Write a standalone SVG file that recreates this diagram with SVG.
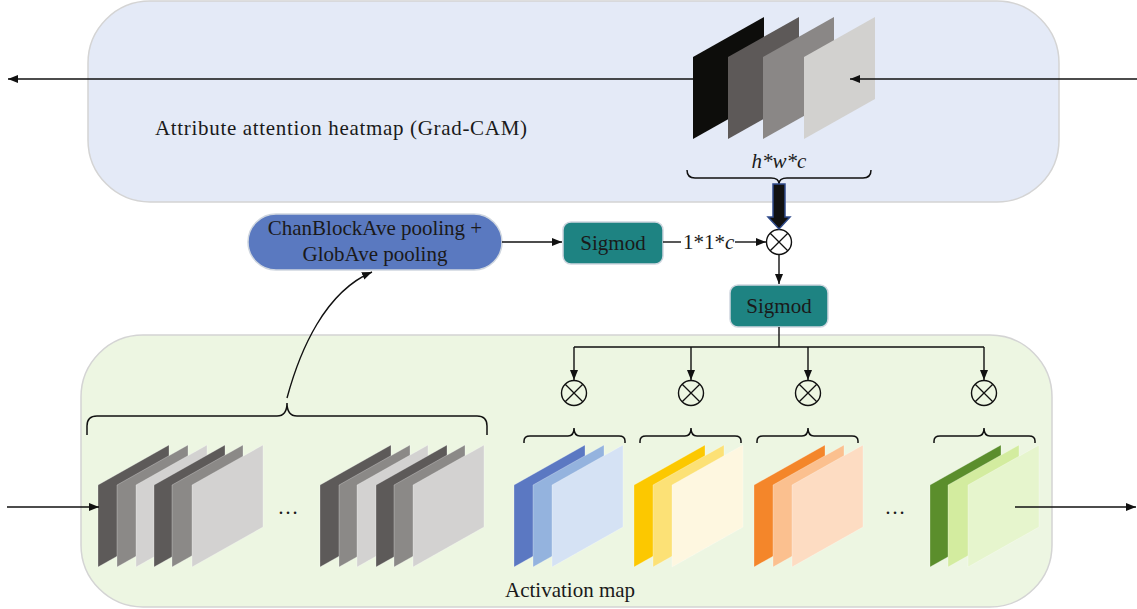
<svg xmlns="http://www.w3.org/2000/svg" xmlns:xlink="http://www.w3.org/1999/xlink" width="1137" height="609" viewBox="0 0 1137 609">
  <style>
    .lbl { font-family: "Liberation Serif", "Times New Roman", serif; font-size: 21px; fill: #1a1a1a; }
    .it { font-style: italic; }
    .panel { stroke: #d4d4d4; stroke-width: 1.5; }
    .wire { fill: none; stroke: #111; stroke-width: 1.4; }
    .brace { fill: none; stroke: #111; stroke-width: 1.5; }
    .node { stroke: #cfd6df; stroke-width: 1.5; }
    .card { stroke: #ffffff; stroke-opacity: 0.35; stroke-width: 0.8; }
  </style>
  <defs>
    <marker id="arr" viewBox="0 0 10 10" refX="10" refY="5" markerWidth="10" markerHeight="10" markerUnits="userSpaceOnUse" orient="auto">
      <path d="M0,1 L10,5 L0,9 Z" fill="#111"/>
    </marker>
    <!-- slanted feature-map sheet: 71 wide, 82 tall, 40 px skew -->
    <path id="sheet" d="M0,40 L71,0 L71,82 L0,122 Z"/>
    <!-- element-wise multiplication symbol -->
    <g id="otimes" fill="none" stroke="#111" stroke-width="1.4">
      <circle r="12.5"/>
      <path d="M-8.8,-8.8 L8.8,8.8 M8.8,-8.8 L-8.8,8.8" stroke-width="1.3"/>
    </g>
  </defs>

  <!-- background panels -->
  <g id="heatmap-panel">
    <rect class="panel" x="88" y="1" width="971" height="201" rx="62" fill="#e4eaf7"/>
    <text class="lbl" x="155" y="135" textLength="372" lengthAdjust="spacing">Attribute attention heatmap (Grad-CAM)</text>
  </g>
  <g id="activation-panel">
    <rect class="panel" x="81" y="335" width="971" height="272" rx="62" fill="#edf6e2"/>
    <text class="lbl" x="505" y="597">Activation map</text>
  </g>

  <!-- heatmap output arrow (behind the sheets) -->
  <g id="heatmap-out">
    <line class="wire" x1="712" y1="79" x2="8" y2="79" marker-end="url(#arr)"/>
  </g>

  <!-- Grad-CAM heatmap stack h*w*c -->
  <g id="heatmap-stack">
    <use xlink:href="#sheet" x="693" y="17" fill="#0d0d0b"/>
    <use xlink:href="#sheet" x="728" y="17" fill="#5d5958"/>
    <use xlink:href="#sheet" x="763" y="17" fill="#8a8786"/>
    <use xlink:href="#sheet" x="804" y="17" fill="#d2d1cf"/>
    <path class="brace" d="M687,170 Q687,178 695,178 L771,178 Q779,178 779,184 Q779,178 787,178 L863,178 Q871,178 871,170"/>
    <text class="lbl it" x="779" y="168" text-anchor="middle">h*w*c</text>
  </g>

  <!-- pooling node -->
  <g id="pooling">
    <rect class="node" x="248" y="214" width="254" height="56" rx="28" fill="#5a79c0"/>
    <text class="lbl" x="375" y="235" text-anchor="middle">ChanBlockAve pooling +</text>
    <text class="lbl" x="375" y="261" text-anchor="middle">GlobAve pooling</text>
  </g>

  <g id="sigmod-1">
    <rect class="node" x="563" y="222" width="100" height="42" rx="8" fill="#1e8382"/>
    <text class="lbl" x="613" y="250" text-anchor="middle">Sigmod</text>
  </g>

  <g id="sigmod-2">
    <rect class="node" x="730" y="285" width="98" height="42" rx="8" fill="#1e8382"/>
    <text class="lbl" x="779" y="313" text-anchor="middle">Sigmod</text>
  </g>

  <g id="mul-top"><use xlink:href="#otimes" x="779" y="242"/></g>
  <g id="mul-1"><use xlink:href="#otimes" x="574" y="393"/></g>
  <g id="mul-2"><use xlink:href="#otimes" x="691" y="393"/></g>
  <g id="mul-3"><use xlink:href="#otimes" x="808" y="393"/></g>
  <g id="mul-4"><use xlink:href="#otimes" x="984" y="393"/></g>

  <!-- input feature maps -->
  <g id="feature-maps">
    <use class="card" xlink:href="#sheet" x="98" y="445" fill="#5d5a59"/>
    <use class="card" xlink:href="#sheet" x="117" y="445" fill="#8b8987"/>
    <use class="card" xlink:href="#sheet" x="136" y="445" fill="#d3d2d1"/>
    <use class="card" xlink:href="#sheet" x="154" y="445" fill="#5d5a59"/>
    <use class="card" xlink:href="#sheet" x="172" y="445" fill="#8b8987"/>
    <use class="card" xlink:href="#sheet" x="192" y="445" fill="#d3d2d1"/>
    <text class="lbl" x="288" y="514" text-anchor="middle">…</text>
    <use class="card" xlink:href="#sheet" x="320" y="445" fill="#5d5a59"/>
    <use class="card" xlink:href="#sheet" x="339" y="445" fill="#8b8987"/>
    <use class="card" xlink:href="#sheet" x="357" y="445" fill="#d3d2d1"/>
    <use class="card" xlink:href="#sheet" x="376" y="445" fill="#5d5a59"/>
    <use class="card" xlink:href="#sheet" x="394" y="445" fill="#8b8987"/>
    <use class="card" xlink:href="#sheet" x="413" y="445" fill="#d3d2d1"/>
    <path class="brace" d="M87,435 L87,426 Q87,416 97,416 L277,416 Q287,416 287,403 Q287,416 297,416 L477,416 Q487,416 487,426 L487,435"/>
  </g>

  <!-- weighted activation maps -->
  <g id="activation-maps">
    <use class="card" xlink:href="#sheet" x="514" y="445" fill="#5b78c2"/>
    <use class="card" xlink:href="#sheet" x="533" y="445" fill="#94b3de"/>
    <use class="card" xlink:href="#sheet" x="552" y="445" fill="#d5e2f4"/>
    <use class="card" xlink:href="#sheet" x="634" y="445" fill="#fcc800"/>
    <use class="card" xlink:href="#sheet" x="653" y="445" fill="#fce176"/>
    <use class="card" xlink:href="#sheet" x="672" y="445" fill="#fef7e0"/>
    <use class="card" xlink:href="#sheet" x="754" y="445" fill="#f4862a"/>
    <use class="card" xlink:href="#sheet" x="773" y="445" fill="#fbc08f"/>
    <use class="card" xlink:href="#sheet" x="792" y="445" fill="#fddcc2"/>
    <text class="lbl" x="895" y="514" text-anchor="middle">…</text>
    <use class="card" xlink:href="#sheet" x="930" y="445" fill="#5b8e2c"/>
    <use class="card" xlink:href="#sheet" x="948" y="445" fill="#d3ec9f"/>
    <use class="card" xlink:href="#sheet" x="968" y="445" fill="#e6f5cd"/>
    <path class="brace" d="M524,443 L524,441 Q524,436 530,436 L568,436 Q574,436 574,428 Q574,436 580,436 L619,436 Q625,436 625,441 L625,443"/>
    <path class="brace" d="M640,443 L640,441 Q640,436 646,436 L685,436 Q691,436 691,428 Q691,436 697,436 L735,436 Q741,436 741,441 L741,443"/>
    <path class="brace" d="M757,443 L757,441 Q757,436 763,436 L802,436 Q808,436 808,428 Q808,436 814,436 L852,436 Q858,436 858,441 L858,443"/>
    <path class="brace" d="M934,443 L934,441 Q934,436 940,436 L978,436 Q984,436 984,428 Q984,436 990,436 L1029,436 Q1035,436 1035,441 L1035,443"/>
  </g>

  <!-- connectors -->
  <g id="connectors">
    <line class="wire" x1="1137" y1="79" x2="850" y2="79" marker-end="url(#arr)"/>
    <path d="M773,184 L785,184 L785,217 L790,217 L779,229 L768,217 L773,217 Z" fill="#111" stroke="#2f4a8a" stroke-width="1.5" stroke-linejoin="miter"/>
    <line class="wire" x1="502" y1="242" x2="562" y2="242" marker-end="url(#arr)"/>
    <line class="wire" x1="663" y1="242" x2="681" y2="242"/>
    <text class="lbl" x="683" y="249">1*1*<tspan class="it">c</tspan></text>
    <line class="wire" x1="735" y1="242" x2="766" y2="242" marker-end="url(#arr)"/>
    <line class="wire" x1="779" y1="255" x2="779" y2="284" marker-end="url(#arr)"/>
    <path class="wire" d="M779,327 L779,347 M574,347 L984,347"/>
    <line class="wire" x1="574" y1="347" x2="574" y2="380" marker-end="url(#arr)"/>
    <line class="wire" x1="691" y1="347" x2="691" y2="380" marker-end="url(#arr)"/>
    <line class="wire" x1="808" y1="347" x2="808" y2="380" marker-end="url(#arr)"/>
    <line class="wire" x1="984" y1="347" x2="984" y2="380" marker-end="url(#arr)"/>
    <path class="wire" d="M287,398 C300,350 325,292 372,272" marker-end="url(#arr)"/>
    <line class="wire" x1="7" y1="507" x2="99" y2="507" marker-end="url(#arr)"/>
    <line class="wire" x1="1015" y1="507" x2="1136" y2="507" marker-end="url(#arr)"/>
  </g>
</svg>
